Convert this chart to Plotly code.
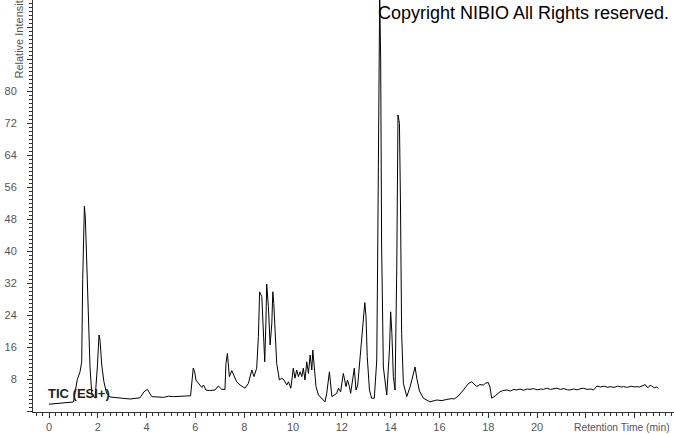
import plotly.graph_objects as go

# Retention time (min) and relative intensity
time_min = [
    0.0, 1.0, 1.05, 1.16, 1.27, 1.34, 1.38, 1.45, 1.49, 1.54, 1.61, 1.68, 1.75, 1.89,
    1.98, 2.05, 2.09, 2.16, 2.25, 2.36, 2.5, 2.91, 3.32, 3.73, 3.89, 4.03, 4.21, 4.69,
    4.89, 5.1, 5.5, 5.8, 5.91, 5.97, 6.02, 6.12, 6.26, 6.33, 6.43, 6.57, 6.8, 6.94,
    7.08, 7.21, 7.25, 7.31, 7.39, 7.49, 7.58, 7.69, 7.83, 8.03, 8.17, 8.31, 8.4, 8.51,
    8.58, 8.63, 8.72, 8.78, 8.84, 8.89, 8.92, 8.99, 9.06, 9.13, 9.17, 9.21, 9.26, 9.33,
    9.44, 9.54, 9.63, 9.74, 9.81, 9.91, 10.01, 10.08, 10.15, 10.22, 10.29, 10.36, 10.42,
    10.49, 10.56, 10.63, 10.7, 10.77, 10.81, 10.86, 10.94, 11.04, 11.18, 11.31, 11.38,
    11.45, 11.49, 11.59, 11.68, 11.79, 11.86, 11.95, 12.06, 12.13, 12.17, 12.23, 12.31,
    12.36, 12.45, 12.51, 12.58, 12.65, 12.75, 12.81, 12.88, 12.94, 12.99, 13.04, 13.13,
    13.22, 13.33, 13.43, 13.47, 13.52, 13.55, 13.59, 13.63, 13.7, 13.84, 13.95, 14.0,
    14.05, 14.11, 14.18, 14.25, 14.3, 14.36, 14.4, 14.45, 14.52, 14.66, 14.8, 15.0,
    15.07, 15.18, 15.34, 15.61, 15.89, 16.1, 16.3, 16.5, 16.6, 16.77, 16.98, 17.19,
    17.32, 17.42, 17.53, 17.65, 17.8, 17.9, 18.0, 18.07, 18.14, 18.28, 18.48, 18.6,
    18.76, 18.9, 19.05, 19.17, 19.3, 19.45, 19.6, 19.71, 19.85, 20.0, 20.15, 20.26,
    20.4, 20.55, 20.7, 20.81, 20.95, 21.1, 21.25, 21.35, 21.5, 21.65, 21.8, 21.9,
    22.05, 22.2, 22.31, 22.45, 22.6, 22.75, 22.9, 22.99, 23.15, 23.3, 23.45, 23.54,
    23.7, 23.85, 24.0, 24.09, 24.2, 24.3, 24.43, 24.5, 24.56, 24.62, 24.7, 24.8, 24.9,
    24.97,
]
intensity = [
    1.7, 2.25, 4.0, 7.9, 9.8, 12.3, 32.8, 51.2, 48.2, 38.6, 22.7, 11.0, 4.5, 3.2,
    11.0, 19.0, 17.7, 11.5, 7.3, 4.4, 3.5, 3.2, 3.0, 3.3, 4.8, 5.4, 3.6, 3.4,
    3.7, 3.6, 3.75, 3.8, 10.7, 9.8, 7.75, 6.9, 5.9, 6.5, 5.25, 5.1, 5.25, 6.25,
    5.4, 5.4, 11.9, 14.4, 8.6, 10.1, 8.6, 7.3, 6.5, 5.7, 6.9, 10.25, 8.6, 10.7,
    18.6, 29.8, 28.6, 18.6, 12.3, 22.75, 31.75, 26.1, 16.5, 21.9, 29.8, 26.9, 19.4, 11.9,
    7.75, 8.2, 7.75, 6.5, 7.3, 5.7, 10.7, 8.2, 10.25, 8.6, 9.8, 8.6, 10.7,
    7.75, 12.3, 9.4, 14.0, 10.25, 15.25, 11.1, 6.1, 4.0, 3.2, 2.3, 4.4,
    8.6, 9.8, 3.6, 4.0, 4.4, 5.7, 4.8, 9.4, 7.75, 6.1, 7.75, 6.1,
    4.4, 8.6, 10.7, 5.25, 6.5, 13.6, 18.2, 23.6, 27.1, 23.6, 13.6, 5.25,
    3.2, 3.2, 12.75, 40.25, 87.75, 104.0, 88.0, 41.0, 11.0, 4.0, 15.25, 24.8,
    19.4, 8.6, 5.25, 36.0, 74.0, 71.9, 52.75, 19.4, 6.9, 3.6, 6.1, 11.0,
    8.2, 5.0, 3.2, 2.3, 2.75, 2.6, 2.9, 3.1, 3.0, 3.75, 5.25, 6.9,
    7.3, 6.6, 6.1, 6.6, 6.5, 7.0, 7.1, 6.0, 3.2, 3.75, 4.8, 5.1,
    5.25, 5.0, 5.4, 5.25, 5.5, 5.2, 5.5, 5.4, 5.6, 5.3, 5.5, 5.4,
    5.7, 5.4, 5.6, 5.7, 5.4, 5.6, 5.3, 5.25, 5.5, 5.3, 5.6, 5.7,
    5.4, 5.5, 5.25, 6.25, 6.0, 6.2, 5.9, 6.1, 5.9, 6.2, 6.0, 6.1,
    5.9, 6.2, 6.0, 6.1, 6.0, 6.3, 6.6, 6.0, 5.9, 6.4, 6.25, 5.8, 6.0,
    5.7,
]

x_tick_vals = [0, 2, 4, 6, 8, 10, 12, 14, 16, 18, 20, 22, 24]
x_tick_text = ["0", "2", "4", "6", "8", "10", "12", "14", "16", "18", "20", "", ""]
y_tick_vals = [0, 8, 16, 24, 32, 40, 48, 56, 64, 72, 80, 88, 96]
y_tick_text = ["", "8", "16", "24", "32", "40", "48", "56", "64", "72", "80", "", ""]

W, H = 674, 434
ML, MR, MT, MB = 33, 0, 0, 22
PW, PH = W - ML - MR, H - MT - MB

def px_x(p):
    return (p - ML) / PW

def px_y(p):
    return (H - MB - p) / PH

fig = go.Figure()
fig.add_trace(go.Scatter(
    x=time_min, y=intensity, mode="lines",
    line=dict(color="black", width=1),
    hoverinfo="skip", showlegend=False,
))

FONT = "Liberation Sans, Arial, sans-serif"
tick_font = dict(family=FONT, size=11, color="#555555")
axis_common = dict(
    showline=True, linecolor="#333333", linewidth=1,
    showgrid=False, zeroline=False,
    ticks="outside", ticklen=5, tickcolor="#333333", tickwidth=1,
    tickfont=tick_font, fixedrange=True, automargin=False,
)

fig.update_xaxes(
    range=[-0.656, 25.61],
    tickmode="array", tickvals=x_tick_vals, ticktext=x_tick_text,
    minor=dict(dtick=0.25, tick0=0, ticks="outside", ticklen=3, tickcolor="#333333", showgrid=False),
    **axis_common,
)
fig.update_yaxes(
    range=[-0.25, 102.75],
    tickmode="array", tickvals=y_tick_vals, ticktext=y_tick_text,
    ticklabelstandoff=8,
    minor=dict(dtick=1, tick0=0, ticks="outside", ticklen=3, tickcolor="#333333", showgrid=False),
    **axis_common,
)

fig.update_layout(
    width=W, height=H,
    margin=dict(l=ML, r=MR, t=MT, b=MB, pad=0),
    paper_bgcolor="white", plot_bgcolor="white",
    annotations=[
        dict(text="Relative Intensity", textangle=-90, showarrow=False,
             xref="paper", yref="paper", x=px_x(18), y=px_y(36.5),
             xanchor="center", yanchor="middle",
             font=dict(family=FONT, size=11, color="#555555")),
        dict(text="Retention Time (min)", showarrow=False,
             xref="paper", yref="paper", x=px_x(672), y=px_y(427),
             xanchor="right", yanchor="middle",
             font=dict(family=FONT, size=10.3, color="#555555")),
        dict(text="Copyright NIBIO All Rights reserved.", showarrow=False,
             xref="paper", yref="paper", x=px_x(376), y=px_y(13),
             xanchor="left", yanchor="middle",
             font=dict(family=FONT, size=18, color="black")),
        dict(text="<b>TIC (ESI+)</b>", showarrow=False,
             xref="paper", yref="paper", x=px_x(46), y=px_y(393),
             xanchor="left", yanchor="middle",
             font=dict(family=FONT, size=13, color="#222222")),
    ],
)

fig.write_html(
    "out.html",
    config={"displayModeBar": False},
    post_script="document.body.style.margin='0';document.body.style.overflow='hidden';",
)
